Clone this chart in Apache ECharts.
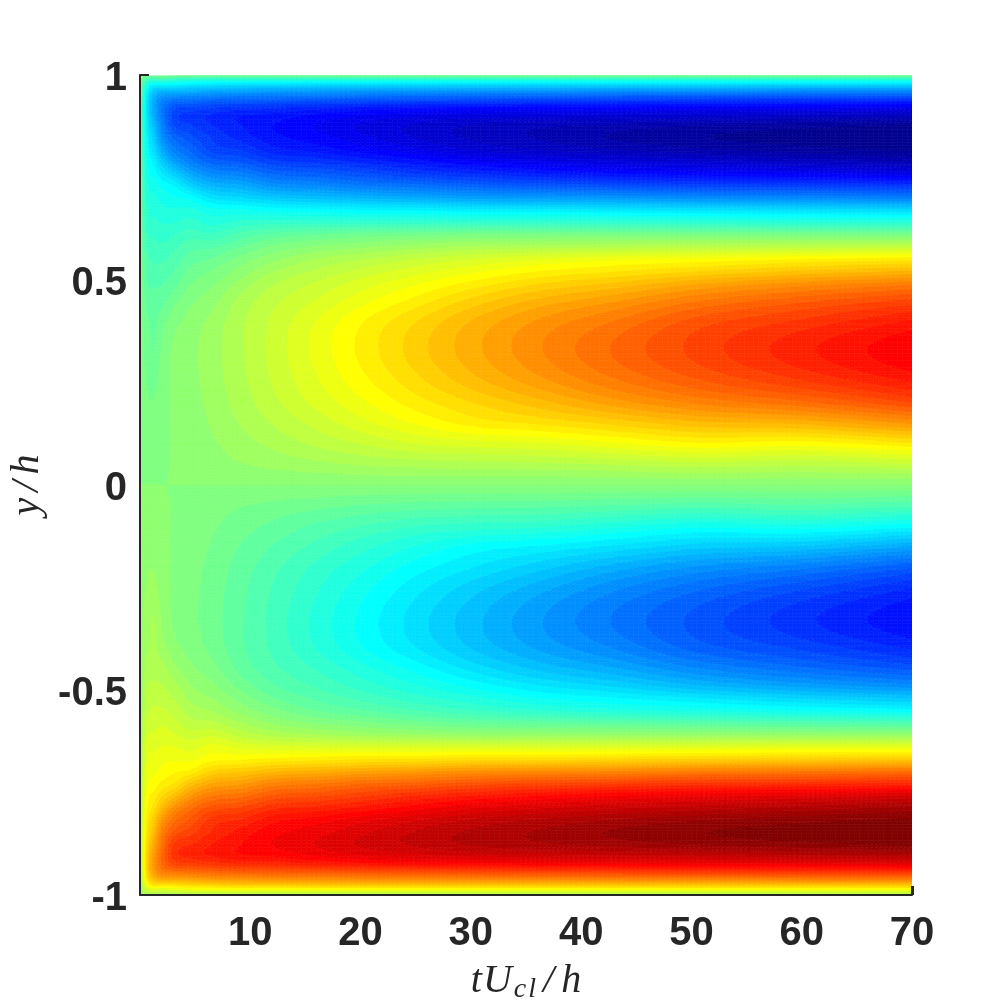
<!DOCTYPE html>
<html><head><meta charset="utf-8">
<style>html,body{margin:0;padding:0;background:#fff}#c{width:1008px;height:1008px}</style>
<script src="https://cdn.jsdelivr.net/npm/echarts@6/dist/echarts.min.js"></script>
</head><body><div id="c"></div>
<script>
const xTickLabels=[10,20,30,40,50,60,70];
const yTickLabels=[-1,-0.5,0,0.5,1];
const times=[0.1,0.6,1.2,2,3,4.5,6.5,9,12,16,20,25,30,36,43,50,60,70];
const yLevels=[.998,.99,.98,.96,.94,.92,.9,.875,.85,.82,.79,.76,.73,.7,.67,.64,.61,.58,.55,.52,.49,.45,.4,.33,.26,.2,.15,.1,.05,.02,0,-.02,-.05,-.1,-.15,-.2,-.26,-.33,-.4,-.45,-.49,-.52,-.55,-.58,-.61,-.64,-.67,-.7,-.73,-.76,-.79,-.82,-.85,-.875,-.9,-.92,-.94,-.96,-.98,-.99,-.999];
const profiles=[
[-2,-4,-6,-9,-11,-12,-12,-11.5,-11,-10.5,-10,-9,-8.5,-8,-7.5,-7,-6,-5.5,-5,-4,-3.5,-3,-2.5,-2,-2,-1.5,-1.2,-1,-.5,-.2,0,.2,.5,1,1.2,1.5,2,2,2.5,3,3.5,4,5,5.5,6,7,7.5,8,8.5,9,10,10.5,11,11.5,12,12,11,9,6,4,2],
[-4,-12,-19,-27,-30,-31,-30.5,-29,-27.5,-26,-24,-23,-21,-19.5,-18,-17,-15,-13,-11,-10,-9,-7.5,-5.5,-4.5,-3.5,-2.6,-2.1,-1.6,-1.1,-.4,0,.4,1.1,1.6,2.1,2.6,3.5,4.5,5.5,7.5,9,10,11,13,15,17,18,19.5,21,23,24,26,27.5,29,30.5,31,30,27,19,12,4],
[-4,-14,-25,-37,-42,-43,-42,-39,-36,-33,-29,-26,-23,-21,-19.5,-18,-16,-14.5,-13,-11.5,-10,-8,-7,-6.5,-4.5,-3,-2.2,-1.6,-1,-.5,0,.5,1,1.6,2.2,3,4.5,6.5,7,8,10,11.5,13,14.5,16,18,19.5,21,23,26,29,33,36,39,42,43,42,37,25,14,4],
[-4,-13,-24,-41,-50,-53,-53,-51,-49,-44,-37,-31,-26,-23,-21,-19,-17,-15,-13,-11,-9.5,-7.5,-4.5,-2.5,-1.5,-1,-.8,-.6,-.3,-.1,0,.1,.3,.6,.8,1,1.5,2.5,4.5,7.5,9.5,11,13,15,17,19,21,23,26,31,37,44,49,51,53,53,50,41,24,13,4],
[-5,-15,-25,-41,-53,-61,-63.5,-62,-57,-52,-45,-36,-28,-24.5,-21.5,-19,-16,-13.5,-11.5,-9.5,-7.5,-4.5,-1.5,.3,.4,.3,.25,.2,.1,.05,0,-.05,-.1,-.2,-.25,-.3,-.4,-.3,1.5,4.5,7.5,9.5,11.5,13.5,16,19,21.5,24.5,28,36,45,52,57,62,63.5,61,53,41,25,15,5],
[-5,-17,-27,-42,-54,-63,-66.8,-65,-61.5,-57,-52,-44,-35,-26,-21,-17.5,-14,-10.5,-8,-5.5,-3.5,-1,1,2.1,2,1.7,1.3,1,.6,.2,0,-.2,-.6,-1,-1.3,-1.7,-2,-2.1,-1,1,3.5,5.5,8,10.5,14,17.5,21,26,35,44,52,57,61.5,65,66.8,63,54,42,27,17,5],
[-6,-18,-28,-44,-56,-65,-69.3,-68.5,-66,-64,-58,-50,-41,-32,-24,-20,-15,-10,-6,-3,-.7,1.8,4,4.8,4.6,4.1,3.4,2.6,1.6,.6,0,-.6,-1.6,-2.6,-3.4,-4.1,-4.6,-4.8,-4,-1.8,.7,3,6,10,15,20,24,32,41,50,58,64,66,68.5,69.3,65,56,44,28,18,6],
[-6,-18,-29,-45,-57,-67,-71.8,-71.5,-70,-66,-60,-52,-43,-34,-24.5,-18,-11.5,-6.5,-2,1,4,7,8.5,8.7,8.3,7.5,6.3,4.7,2.8,1,0,-1,-2.8,-4.7,-6.3,-7.5,-8.3,-8.7,-8.5,-7,-4,-1,2,6.5,11.5,18,24.5,34,43,52,60,66,70,71.5,71.8,67,57,45,29,18,6],
[-6,-18,-29,-46,-58,-68,-73,-75,-74,-71,-65,-57,-48,-37,-26,-17,-8.5,-2.5,2,6,9,11.5,13,13.5,12.8,11.5,9.5,7,4,1.5,0,-1.5,-4,-7,-9.5,-11.5,-12.8,-13.5,-13,-11.5,-9,-6,-2,2.5,8.5,17,26,37,48,57,65,71,74,75,73,68,58,46,29,18,6],
[-6,-18,-30,-46,-59,-70,-76,-78.3,-77,-73.5,-67,-59,-50,-39,-27,-17,-6.5,.5,6.5,10,13,15.8,18.8,19.8,18.5,16.5,13.5,10,5.2,2,0,-2,-5.2,-10,-13.5,-16.5,-18.5,-19.8,-18.8,-15.8,-13,-10,-6.5,-.5,6.5,17,27,39,50,59,67,73.5,77,78.3,76,70,59,46,30,18,6],
[-6,-18,-30,-47,-60,-72,-78.5,-81.7,-80.5,-77,-70,-62,-53,-41,-28,-17,-5,2.5,9,13.5,17,20.5,24.5,25.7,24,21,17.5,12.5,6.5,2.5,0,-2.5,-6.5,-12.5,-17.5,-21,-24,-25.7,-24.5,-20.5,-17,-13.5,-9,-2.5,5,17,28,41,53,62,70,77,80.5,81.7,78.5,72,60,47,30,18,6],
[-6,-18,-30,-47,-61,-74,-81,-85,-84.8,-81,-74,-66,-55,-43,-28.5,-17,-4,5,12.5,17.5,21.5,26,31,32.8,30.5,26.5,22,15.5,7.5,2.8,0,-2.8,-7.5,-15.5,-22,-26.5,-30.5,-32.8,-31,-26,-21.5,-17.5,-12.5,-5,4,17,28.5,43,55,66,74,81,84.8,85,81,74,61,47,30,18,6],
[-6,-18,-30,-48,-62,-75,-83,-88,-88.2,-85,-78,-69,-58,-45,-30,-17,-3,7,15.5,21,26,32,37.5,39.3,36.5,31,26,17,8,3,0,-3,-8,-17,-26,-31,-36.5,-39.3,-37.5,-32,-26,-21,-15.5,-7,3,17,30,45,58,69,78,85,88.2,88,83,75,62,48,30,18,6],
[-6,-18,-30,-48,-63,-76,-84,-90,-91,-88,-81,-72,-60,-46,-30,-17,-3,8,18.5,25,31,38,44,46.3,43,36,28.5,18,8.5,3,0,-3,-8.5,-18,-28.5,-36,-43,-46.3,-44,-38,-31,-25,-18.5,-8,3,17,30,46,60,72,81,88,91,90,84,76,63,48,30,18,6],
[-6,-18,-30,-49,-64,-77,-85,-92,-94.2,-91,-84,-75,-62,-47,-31,-17.5,-3,9,21,28,35,43,50,53.5,50,42,32,21,9.5,3.5,0,-3.5,-9.5,-21,-32,-42,-50,-53.5,-50,-43,-35,-28,-21,-9,3,17.5,31,47,62,75,84,91,94.2,92,85,77,64,49,30,18,6],
[-6,-18,-30,-49,-65,-78,-86,-94,-96.5,-93.5,-86,-77,-64,-49,-32,-18,-3,10,22.5,31,40,49,57,60,56,47,36,24,11,4,0,-4,-11,-24,-36,-47,-56,-60,-57,-49,-40,-31,-22.5,-10,3,18,32,49,64,77,86,93.5,96.5,94,86,78,65,49,30,18,6],
[-6,-18,-30,-50,-66,-79,-88,-96,-98.5,-96,-89,-79,-65,-50,-33,-19,-3,11,25,35,45,55,63,67.8,63,52,38,23,10,3.8,0,-3.8,-10,-23,-38,-52,-63,-67.8,-63,-55,-45,-35,-25,-11,3,19,33,50,65,79,89,96,98.5,96,88,79,66,50,30,18,6],
[-6,-18,-30,-50,-67,-81,-90,-98,-99.7,-98,-92,-82,-67,-52,-34,-19,-3,12,27,38,49,60,69,74.6,70,59,44,27,12,4.5,0,-4.5,-12,-27,-44,-59,-70,-74.6,-69,-60,-49,-38,-27,-12,3,19,34,52,67,82,92,98,99.7,98,90,81,67,50,30,18,6]
];
const INK='#262626';
const BAND_COUNT=64, V_MIN=-100, V_MAX=100;
function jet64(){
  const n=16,u=[];
  for(let i=1;i<=n;i++)u.push(i/n);
  for(let i=1;i<n;i++)u.push(1);
  for(let i=n;i>=1;i--)u.push(i/n);
  const c=[];for(let i=0;i<64;i++)c.push([0,0,0]);
  u.forEach((val,i)=>{const g=9+i;
    c[g-1][1]=val;
    if(g+n<=64)c[g+n-1][0]=val;
    if(g-n>=1)c[g-n-1][2]=val;});
  return c.map(p=>'rgb('+p.map(x=>Math.round(x*255)).join(',')+')');
}
const colors=jet64();
const step=(V_MAX-V_MIN)/BAND_COUNT;
// smooth shading of the read values between grid nodes (like interpolated contour shading)
function tangents(xs,vs){
  const n=xs.length,d=[],m=[];
  for(let i=0;i<n-1;i++)d.push((vs[i+1]-vs[i])/(xs[i+1]-xs[i]));
  m[0]=d[0];m[n-1]=d[n-2];
  for(let i=1;i<n-1;i++){const h0=xs[i]-xs[i-1],h1=xs[i+1]-xs[i];m[i]=(h1*d[i-1]+h0*d[i])/(h0+h1);}
  return m;
}
function hermite(xs,vs,ms,i,f){
  const h=xs[i+1]-xs[i],f2=f*f,f3=f2*f;
  return (2*f3-3*f2+1)*vs[i]+(f3-2*f2+f)*h*ms[i]+(-2*f3+3*f2)*vs[i+1]+(f3-f2)*h*ms[i+1];
}
const subT=times.slice(0,-1).map((t,i)=>Math.max(1,Math.ceil((times[i+1]-t)*11.03/5)));
const subY=yLevels.slice(0,-1).map((y,j)=>Math.max(1,Math.ceil((y-yLevels[j+1])*410/4)));
const yFine=[],yIdx=[],tFine=[],tIdx=[];
subY.forEach((s,j)=>{yIdx.push(yFine.length);for(let b=0;b<s;b++)yFine.push([j,b/s]);});
yIdx.push(yFine.length);yFine.push([yLevels.length-2,1]);
subT.forEach((s,i)=>{tIdx.push(tFine.length);for(let a=0;a<s;a++)tFine.push([i,a/s]);});
tIdx.push(tFine.length);tFine.push([times.length-2,1]);
const colFine=profiles.map(col=>{const m=tangents(yLevels,col);return yFine.map(p=>hermite(yLevels,col,m,p[0],p[1]));});
const fine=yFine.map((_,q)=>{const row=colFine.map(c=>c[q]),m=tangents(times,row);return tFine.map(p=>hermite(times,row,m,p[0],p[1]));});
const fineT=tFine.map(p=>times[p[0]]+p[1]*(times[p[0]+1]-times[p[0]]));
const fineY=yFine.map(p=>yLevels[p[0]]+p[1]*(yLevels[p[0]+1]-yLevels[p[0]]));
function clip(poly,lim,keepAbove){
  const out=[];
  for(let i=0;i<poly.length;i++){
    const a=poly[i],b=poly[(i+1)%poly.length];
    const ia=keepAbove?a[2]>=lim:a[2]<=lim, ib=keepAbove?b[2]>=lim:b[2]<=lim;
    if(ia)out.push(a);
    if(ia!==ib){const f=(lim-a[2])/(b[2]-a[2]);
      out.push([a[0]+f*(b[0]-a[0]),a[1]+f*(b[1]-a[1]),lim]);}
  }
  return out;
}
const bandOf=v=>Math.max(0,Math.min(BAND_COUNT-1,Math.floor((v-V_MIN)/step)));
const cellData=[];
times.forEach((t,i)=>yLevels.forEach((y,j)=>cellData.push([t,y,profiles[i][j],i,j])));
function renderCell(params,api){
  const d=cellData[params.dataIndex],i=d[3],j=d[4];
  if(i>=times.length-1||j>=yLevels.length-1)return null;
  const children=[];
  const emit=(poly,k)=>children.push({type:'polygon',silent:true,
    shape:{points:poly.map(p=>api.coord([p[0],p[1]]))},
    style:{fill:colors[k],stroke:colors[k],lineWidth:0.6}});
  for(let q=yIdx[j];q<yIdx[j+1];q++)for(let p=tIdx[i];p<tIdx[i+1];p++){
    const A=[fineT[p],fineY[q],fine[q][p]],B=[fineT[p+1],fineY[q],fine[q][p+1]],
          C=[fineT[p+1],fineY[q+1],fine[q+1][p+1]],D=[fineT[p],fineY[q+1],fine[q+1][p]];
    const kA=bandOf(A[2]);
    if(kA===bandOf(B[2])&&kA===bandOf(C[2])&&kA===bandOf(D[2])){emit([A,B,C,D],kA);continue;}
    [[A,B,C],[A,C,D]].forEach(tri=>{
      const vs=tri.map(v=>v[2]);
      const k0=bandOf(Math.min.apply(null,vs)),k1=bandOf(Math.max.apply(null,vs));
      for(let k=k0;k<=k1;k++){
        let poly=tri;
        if(k>0)poly=clip(poly,V_MIN+k*step,true);
        if(k<BAND_COUNT-1&&poly.length)poly=clip(poly,V_MIN+(k+1)*step,false);
        if(poly.length>=3)emit(poly,k);
      }
    });
  }
  return {type:'group',children:children};
}
const chart=echarts.init(document.getElementById('c'),null,{renderer:'canvas'});
const ital={fontFamily:'Liberation Serif',fontStyle:'italic',color:INK};
chart.setOption({
  animation:false,
  backgroundColor:'#fff',
  grid:{left:140,top:75,right:96,bottom:113,containLabel:false,outerBoundsMode:'none'},
  xAxis:{type:'value',min:0,max:70,interval:10,z:5,
    axisLine:{show:true,onZero:false,lineStyle:{color:INK,width:2}},
    axisTick:{show:true,inside:true,length:9,customValues:[70],lineStyle:{color:INK,width:3}},
    splitLine:{show:false},
    axisLabel:{customValues:xTickLabels,color:INK,fontFamily:'Liberation Sans',fontWeight:'bold',fontSize:40,margin:19,showMinLabel:true,showMaxLabel:true,hideOverlap:false},
    name:'{i|t}{u|U}{s|c}{s|l}{g|/}{g|h}',nameLocation:'middle',nameGap:63,
    nameTextStyle:{rich:{i:Object.assign({fontSize:40},ital),
      u:Object.assign({fontSize:40,padding:[0,0,0,1]},ital),
      g:Object.assign({fontSize:40,padding:[0,0,0,7]},ital),
      s:Object.assign({fontSize:28,padding:[18,0,0,2]},ital)}}},
  yAxis:{type:'value',min:-1,max:1,interval:0.5,z:5,
    axisLine:{show:true,onZero:false,lineStyle:{color:INK,width:2}},
    axisTick:{show:true,inside:true,length:9,customValues:[1],lineStyle:{color:INK,width:2}},
    splitLine:{show:false},
    axisLabel:{customValues:yTickLabels,margin:13,formatter:v=>'{n|'+v+'}',showMinLabel:true,showMaxLabel:true,hideOverlap:false,
      rich:{n:{color:INK,fontFamily:'Liberation Sans',fontWeight:'bold',fontSize:40,padding:[8,0,0,0]}}},
    name:'{i|y}{g|/}{g|h}',nameLocation:'middle',nameGap:93,
    nameTextStyle:{rich:{i:Object.assign({fontSize:40},ital),g:Object.assign({fontSize:40,padding:[0,0,0,6]},ital)}}},
  series:[{type:'custom',coordinateSystem:'cartesian2d',z:1,silent:true,clip:true,
    data:cellData,encode:{x:0,y:1},renderItem:renderCell}]
});
</script></body></html>
